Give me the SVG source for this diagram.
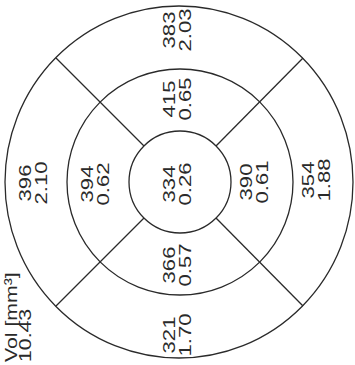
<svg xmlns="http://www.w3.org/2000/svg" width="355" height="365" viewBox="0 0 355 365">
<style>
.ring{fill:none;stroke:#2a2a2a;stroke-width:1.3}
.sep{stroke:#2a2a2a;stroke-width:1.3}
text{font-family:"Liberation Sans",Arial,sans-serif;font-size:17px;fill:#2a2a2a;text-anchor:middle}
.lab{text-anchor:start}
</style>
<rect width="355" height="365" fill="#fff"/>
<g id="outer-ring"><ellipse class="ring" cx="179" cy="182" rx="174" ry="176"/></g>
<g id="middle-ring"><circle class="ring" cx="180" cy="182" r="113"/></g>
<g id="center"><circle class="ring" cx="180" cy="182" r="51"/>
<text transform="translate(175,184) rotate(-90) scale(1.3,1)">334</text>
<text transform="translate(191,184) rotate(-90) scale(1.3,1)">0.26</text></g>
<g id="connectors">
<line class="sep" x1="144" y1="146" x2="56" y2="58"/>
<line class="sep" x1="216" y1="146" x2="303" y2="58"/>
<line class="sep" x1="144" y1="218" x2="56" y2="306"/>
<line class="sep" x1="216" y1="218" x2="303" y2="306"/>
</g>
<g id="superior-inner"><text transform="translate(175,99) rotate(-90) scale(1.3,1)">415</text><text transform="translate(191,99) rotate(-90) scale(1.3,1)">0.65</text></g>
<g id="superior-outer"><text transform="translate(175,30) rotate(-90) scale(1.3,1)">383</text><text transform="translate(191,30) rotate(-90) scale(1.3,1)">2.03</text></g>
<g id="left-inner"><text transform="translate(93,184) rotate(-90) scale(1.3,1)">394</text><text transform="translate(109,184) rotate(-90) scale(1.3,1)">0.62</text></g>
<g id="left-outer"><text transform="translate(31,183) rotate(-90) scale(1.3,1)">396</text><text transform="translate(47,183) rotate(-90) scale(1.3,1)">2.10</text></g>
<g id="right-inner"><text transform="translate(252,182) rotate(-90) scale(1.3,1)">390</text><text transform="translate(268,182) rotate(-90) scale(1.3,1)">0.61</text></g>
<g id="right-outer"><text transform="translate(314,180) rotate(-90) scale(1.3,1)">354</text><text transform="translate(330,180) rotate(-90) scale(1.3,1)">1.88</text></g>
<g id="inferior-inner"><text transform="translate(175,265) rotate(-90) scale(1.3,1)">366</text><text transform="translate(191,265) rotate(-90) scale(1.3,1)">0.57</text></g>
<g id="inferior-outer"><text transform="translate(175,335) rotate(-90) scale(1.3,1)">321</text><text transform="translate(191,335) rotate(-90) scale(1.3,1)">1.70</text></g>
<g id="volume"><text class="lab" transform="translate(17,362) rotate(-90) scale(1.25,1)">Vol [mm³]</text><text class="lab" transform="translate(31,362) rotate(-90) scale(1.25,1)">10.43</text></g>
</svg>
